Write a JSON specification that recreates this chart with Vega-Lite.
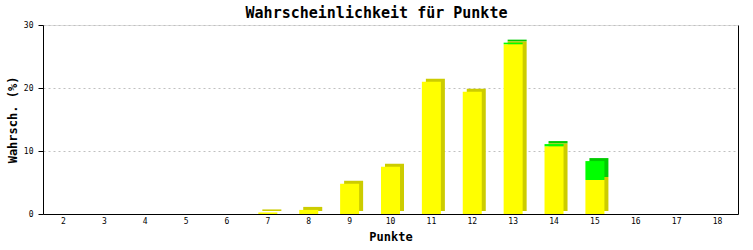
{
  "$schema": "https://vega.github.io/schema/vega-lite/v6.json",
  "width": 695,
  "height": 189,
  "autosize": {"type": "none"},
  "padding": {"left": 43, "top": 25, "right": 15, "bottom": 36},
  "background": "white",
  "title": {
    "text": "Wahrscheinlichkeit für Punkte",
    "font": "DejaVu Sans Mono",
    "fontSize": 15,
    "fontWeight": "bold",
    "color": "black",
    "anchor": "middle",
    "frame": "group",
    "dx": -14,
    "offset": 0
  },
  "data": {
    "values": [
      {"Punkte": 2, "Typ": "Basis", "Reihenfolge": 1, "Wert": 0},
      {"Punkte": 3, "Typ": "Basis", "Reihenfolge": 1, "Wert": 0},
      {"Punkte": 4, "Typ": "Basis", "Reihenfolge": 1, "Wert": 0},
      {"Punkte": 5, "Typ": "Basis", "Reihenfolge": 1, "Wert": 0},
      {"Punkte": 6, "Typ": "Basis", "Reihenfolge": 1, "Wert": 0},
      {"Punkte": 7, "Typ": "Basis", "Reihenfolge": 1, "Wert": 0.25},
      {"Punkte": 8, "Typ": "Basis", "Reihenfolge": 1, "Wert": 0.65},
      {"Punkte": 9, "Typ": "Basis", "Reihenfolge": 1, "Wert": 4.8},
      {"Punkte": 10, "Typ": "Basis", "Reihenfolge": 1, "Wert": 7.5},
      {"Punkte": 11, "Typ": "Basis", "Reihenfolge": 1, "Wert": 21.0},
      {"Punkte": 12, "Typ": "Basis", "Reihenfolge": 1, "Wert": 19.4},
      {"Punkte": 13, "Typ": "Basis", "Reihenfolge": 1, "Wert": 26.95},
      {"Punkte": 13, "Typ": "Bonus", "Reihenfolge": 2, "Wert": 0.25},
      {"Punkte": 14, "Typ": "Basis", "Reihenfolge": 1, "Wert": 10.75},
      {"Punkte": 14, "Typ": "Bonus", "Reihenfolge": 2, "Wert": 0.35},
      {"Punkte": 15, "Typ": "Basis", "Reihenfolge": 1, "Wert": 5.4},
      {"Punkte": 15, "Typ": "Bonus", "Reihenfolge": 2, "Wert": 3.0},
      {"Punkte": 16, "Typ": "Basis", "Reihenfolge": 1, "Wert": 0},
      {"Punkte": 17, "Typ": "Basis", "Reihenfolge": 1, "Wert": 0},
      {"Punkte": 18, "Typ": "Basis", "Reihenfolge": 1, "Wert": 0}
    ]
  },
  "encoding": {
    "x": {
      "field": "Punkte",
      "type": "ordinal",
      "sort": "ascending",
      "scale": {"paddingInner": 0.535, "paddingOuter": 0.2675},
      "axis": {
        "labelAngle": 0,
        "ticks": false,
        "labelFont": "DejaVu Sans Mono",
        "labelFontSize": 8,
        "labelColor": "black",
        "labelPadding": 3,
        "domainColor": "black",
        "title": "Punkte",
        "titleFont": "DejaVu Sans Mono",
        "titleFontSize": 12,
        "titleFontWeight": "bold",
        "titleColor": "black",
        "titlePadding": 6
      }
    },
    "order": {"field": "Reihenfolge"}
  },
  "layer": [
    {
      "mark": {"type": "bar", "xOffset": 4, "yOffset": -3},
      "encoding": {
        "y": {
          "field": "Wert",
          "type": "quantitative",
          "stack": "zero",
          "scale": {"domain": [0, 30]},
          "axis": {
            "orient": "left",
            "values": [0, 10, 20, 30],
            "tickSize": 5,
            "tickColor": "black",
            "domainColor": "black",
            "labelFont": "DejaVu Sans Mono",
            "labelFontSize": 8,
            "labelColor": "black",
            "labelPadding": 5,
            "grid": true,
            "gridColor": "#c0c0c0",
            "gridDash": [2, 3],
            "title": "Wahrsch. (%)",
            "titleFont": "DejaVu Sans Mono",
            "titleFontSize": 12,
            "titleFontWeight": "bold",
            "titleColor": "black",
            "titlePadding": 4
          }
        },
        "color": {
          "field": "Typ",
          "type": "nominal",
          "scale": {"domain": ["Basis", "Bonus"], "range": ["#cccc00", "#00cc00"]},
          "legend": null
        }
      }
    },
    {
      "mark": {"type": "bar"},
      "encoding": {
        "y": {
          "field": "Wert",
          "type": "quantitative",
          "stack": "zero",
          "scale": {"domain": [0, 30]},
          "axis": {
            "orient": "right",
            "labels": false,
            "ticks": false,
            "grid": false,
            "title": null,
            "domainColor": "black"
          }
        },
        "color": {
          "field": "Typ",
          "type": "nominal",
          "scale": {"domain": ["Basis", "Bonus"], "range": ["#ffff00", "#00ff00"]},
          "legend": null
        }
      }
    }
  ],
  "resolve": {"scale": {"color": "independent"}, "axis": {"y": "independent"}}
}
